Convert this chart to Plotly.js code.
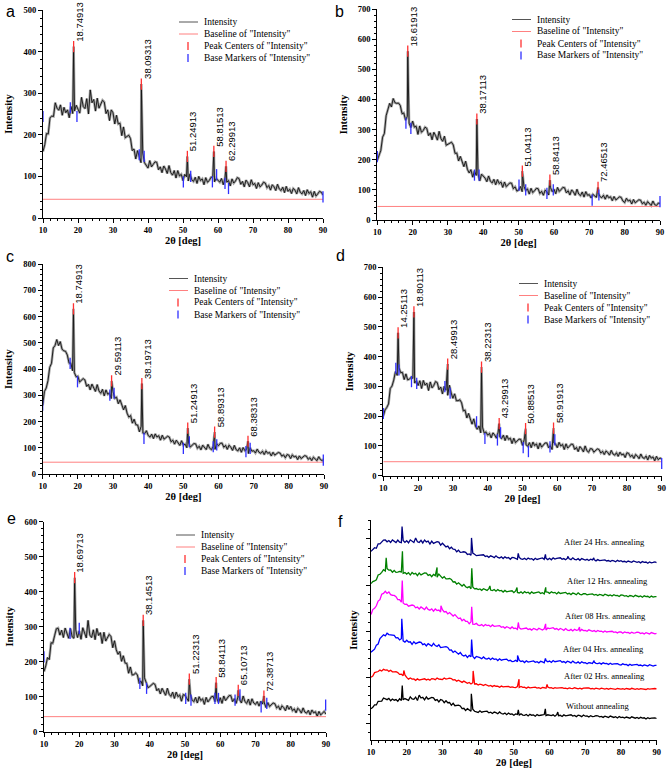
<!DOCTYPE html>
<html><head><meta charset="utf-8">
<script src="https://cdn.plot.ly/plotly-3.0.1.min.js"></script>
<style>html,body{margin:0;padding:0;background:#fff;}#chart{width:669px;height:771px;}</style>
</head><body><div id="chart"></div>
<script>
// ---------------- DATA ----------------
const twoTheta = [
10,10.5,11,11.5,12,12.5,13,13.5,14,14.5,15,15.5,16,16.5,17,17.5,18,18.5,19,19.5,
20,20.5,21,21.5,22,22.5,23,23.5,24,24.5,25,25.5,26,26.5,27,27.5,28,28.5,29,29.5,
30,30.5,31,31.5,32,32.5,33,33.5,34,34.5,35,35.5,36,36.5,37,37.5,38,38.5,39,39.5,
40,40.5,41,41.5,42,42.5,43,43.5,44,44.5,45,45.5,46,46.5,47,47.5,48,48.5,49,49.5,
50,50.5,51,51.5,52,52.5,53,53.5,54,54.5,55,55.5,56,56.5,57,57.5,58,58.5,59,59.5,
60,60.5,61,61.5,62,62.5,63,63.5,64,64.5,65,65.5,66,66.5,67,67.5,68,68.5,69,69.5,
70,70.5,71,71.5,72,72.5,73,73.5,74,74.5,75,75.5,76,76.5,77,77.5,78,78.5,79,79.5,
80,80.5,81,81.5,82,82.5,83,83.5,84,84.5,85,85.5,86,86.5,87,87.5,88,88.5,89,89.5,
90];

// (a) without annealing
const intensityA = [
160,176,203,202,241,245,244,277,264,259,272,247,266,253,260,241,268,251,257,271,
263,252,290,268,263,287,250,308,277,285,257,288,264,272,283,279,251,260,234,260,
253,226,247,226,228,198,219,193,195,199,191,162,166,142,162,149,133,156,133,125,
120,138,123,129,135,134,116,123,109,125,118,107,126,109,103,114,96,114,101,105,
90,105,99,89,106,92,88,98,83,100,90,94,80,97,86,90,98,98,87,95,
90,86,95,80,96,86,90,77,94,84,89,97,95,81,88,75,91,85,75,92,
80,83,71,85,75,79,86,84,73,78,67,80,75,66,81,70,66,74,61,76,
64,69,59,71,67,58,73,62,58,66,54,68,59,63,50,64,53,58,64,62,
55];
const peakXA = [18.74913, 38.09313, 51.24913, 58.81513, 62.29913];
const peakYA = [412, 322, 148, 160, 124];
const baseXA = [10, 17.8, 19.7, 37.5, 38.9, 50.1, 52.2, 58.4, 59.6, 62, 63, 90];
const baseYA = [244, 265, 244, 152, 148, 87, 100, 87, 104, 83, 71, 51];

// (b) after 04 hrs
const intensityB = [
198,214,231,275,287,346,368,387,375,403,389,387,388,380,353,355,331,344,321,307,
328,308,311,284,312,291,297,308,304,280,289,266,291,280,265,294,270,261,278,248,
252,254,258,249,221,222,196,211,196,177,195,168,156,167,142,163,148,153,130,152,
147,139,127,146,129,123,135,117,134,121,126,108,126,111,117,123,122,104,110,96,
99,111,94,111,98,103,86,105,91,97,105,104,88,95,82,99,93,83,108,94,
102,87,108,95,101,108,107,90,97,83,100,93,82,102,86,81,93,76,94,82,
84,73,85,81,75,91,78,74,82,69,83,74,77,64,78,67,71,77,75,63,
58,72,63,66,53,68,57,61,67,66,54,59,49,61,56,48,63,51,48,56,
55];
const peakXB = [18.61913, 38.17113, 51.04113, 58.84113, 72.46513];
const peakYB = [560, 335, 162, 132, 108];
const baseXB = [10, 18.1, 19.5, 37.5, 38.8, 50.1, 52, 58, 59.8, 70.8, 72.7, 90];
const baseYB = [210, 321, 304, 149, 149, 116, 100, 88, 100, 66, 83, 61];

// (c) after 08 hrs
const intensityC = [
262,315,328,356,407,422,481,490,513,490,505,476,470,468,454,423,423,394,387,371,
373,351,356,364,359,334,342,321,343,331,315,341,317,308,323,298,321,304,309,288,
314,289,293,268,283,266,245,261,232,217,223,194,209,188,187,161,182,156,154,165,
147,141,152,135,153,141,146,129,148,133,138,144,141,123,129,114,129,121,109,127,
110,114,100,118,103,109,116,115,98,106,92,110,103,93,113,98,93,106,94,115,
108,117,118,102,109,94,110,102,90,109,93,88,100,83,101,89,94,78,100,87,
89,80,95,83,79,87,74,88,79,82,69,83,72,76,82,80,68,73,62,74,
72,59,73,65,68,55,69,59,63,70,68,56,62,51,64,59,51,66,55,51,
58];
const peakXC = [18.74913, 29.59113, 38.19713, 51.24913, 58.89313, 68.38313];
const peakYC = [630, 355, 345, 175, 160, 125];
const baseXC = [10, 17.8, 19.9, 29.1, 30.3, 38.8, 50, 51.7, 58.5, 59.5, 67.8, 69, 89.8];
const baseYC = [263, 422, 352, 301, 308, 136, 98, 123, 104, 111, 85, 98, 53];

// (d) after 12 hrs
const intensityD = [
200,221,229,241,293,301,321,350,337,363,346,347,323,342,322,324,331,327,311,319,
303,319,293,320,304,311,286,315,295,303,316,313,289,298,275,300,287,270,304,278,
260,275,252,252,255,245,218,220,194,209,193,173,191,166,156,167,144,163,143,147,
136,142,127,144,137,126,146,130,125,136,118,135,122,126,108,126,111,116,123,122,
102,121,104,99,111,94,113,101,107,90,110,96,103,110,110,94,101,88,110,107,
94,112,100,105,88,107,93,99,106,105,88,95,81,98,91,80,100,84,79,91,
90,79,84,90,88,76,82,71,83,78,69,85,73,69,77,65,79,70,73,61,
77,75,64,69,58,71,66,57,73,61,58,66,53,68,59,63,50,65,54,59,
58];
const peakXD = [14.25113, 18.80113, 28.49913, 38.22313, 43.29913, 50.88513, 58.91913];
const peakYD = [480, 550, 375, 365, 175, 158, 160];
const baseXD = [10, 13.6, 14.5, 18.1, 19.6, 27.7, 29.2, 36.8, 39.2, 42.8, 43.7, 50.2, 51.7, 57.9, 59.3, 90];
const baseYD = [209, 361, 355, 316, 310, 299, 277, 181, 125, 120, 144, 94, 81, 97, 120, 41];

// (e) after 24 hrs
const intensityE = [
172,188,212,206,254,253,274,294,296,276,290,269,296,284,267,295,271,267,291,269,
288,264,297,285,268,318,276,269,291,263,295,275,283,252,284,259,267,278,272,240,
260,234,221,229,201,217,196,195,167,185,162,163,168,162,138,145,131,154,141,126,
129,133,138,135,117,123,108,124,116,104,124,107,101,113,95,113,100,105,87,106,
104,97,87,107,91,86,98,82,100,89,94,78,98,85,92,100,101,86,96,83,
97,81,102,89,96,103,103,86,94,81,99,92,82,102,86,81,93,76,94,82,
78,86,73,87,79,82,69,83,72,76,82,80,68,73,62,74,69,60,75,64,
72,60,65,54,67,62,53,68,56,53,61,48,62,54,57,44,58,48,52,58,
50];
const peakXE = [18.69713, 38.14513, 51.22313, 58.84113, 65.10713, 72.38713];
const peakYE = [440, 318, 150, 140, 118, 102];
const baseXE = [10, 17.4, 20, 37.2, 39.1, 50.2, 51.7, 58.5, 59.5, 64.2, 65.6, 71.6, 73.2, 89.9];
const baseYE = [214, 281, 295, 138, 124, 95, 90, 95, 95, 90, 105, 71, 81, 76];

// after 02 hrs (only in panel f)
const intensity02 = [
173,184,222,225,234,249,239,257,249,252,235,247,231,229,231,222,203,204,188,196,
170,151,164,151,154,138,154,142,147,155,155,143,151,140,157,153,145,164,152,150,
147,164,152,156,162,158,142,145,129,140,130,116,130,113,106,115,99,112,99,101,
88,97,91,81,93,81,76,83,70,82,74,76,64,76,67,70,75,73,62,68,
63,60,70,61,72,62,65,53,65,57,60,66,64,54,59,50,62,58,52,66,
56,58,50,59,53,56,59,59,51,54,47,57,52,48,58,49,47,54,45,54,
51,55,55,46,50,43,53,48,44,54,46,44,50,42,51,46,49,41,50,44,
43,47,40,50,46,42,52,43,41,48,40,49,44,47,39,49,43,46,50,50,
46];
const peakX02 = [19.2, 38.6, 51.45, 59.3];
const peakY02 = [245, 240, 150, 95];

const baselineLevels = [45, 45, 45, 47, 43];
const legendLabels = ['Intensity', 'Baseline of "Intensity"', 'Peak Centers of "Intensity"', 'Base Markers of "Intensity"'];
const annealLabels = ['Without annealing', 'After 02 Hrs. annealing', 'After 04 Hrs. annealing',
                      'After 08 Hrs. annealing', 'After 12 Hrs. annealing', 'After 24 Hrs. annealing'];
const panelLetters = ['a', 'b', 'c', 'd', 'e', 'f'];
const yMax = [500, 700, 800, 700, 600];

// ---------------- LAYOUT / STYLE ----------------
const W = 669, H = 771;
const SERIF = 'Liberation Serif, Times New Roman, serif';
const SANS = 'Liberation Sans, Arial, sans-serif';
const X_RANGE = [10, 90];
const boxes = [ // [left, right, top, bottom] in px
  [43, 323, 10, 218], [377.3, 660, 9, 220],
  [42.7, 324, 264.3, 474], [383.3, 661.7, 267.3, 475.7],
  [44, 326, 521.7, 731.7], [371, 656.7, 520, 740]
];
const legendPos = [[202, 22], [535, 19.5], [192, 278.5], [542, 283.5], [199, 535]];
const letterPos = [[10, 12], [339, 12], [10, 257], [340, 256], [11, 518], [340, 521]];
const fOffsets = [0, 330, 575, 920, 1316, 1693];
const fColors = ['#000000', '#ff0000', '#0000ff', '#ff00ff', '#008000', '#000080'];
const fLabelPos = [[73.3, 192], [75.5, 516], [75.0, 808], [75.8, 1166], [76.1, 1544], [75.5, 1966]];

const px2x = p => p / W;
const px2y = p => 1 - p / H;

function merge(xs, ys, pxs, pys, off) {
  const pts = xs.map((x, i) => [x, ys[i]]).concat(pxs.map((x, i) => [x, pys[i]]));
  pts.sort((a, b) => a[0] - b[0]);
  return { x: pts.map(p => p[0]), y: pts.map(p => p[1] + off) };
}

const panelData = [
  { y: intensityA, px: peakXA, py: peakYA, bx: baseXA, by: baseYA },
  { y: intensityB, px: peakXB, py: peakYB, bx: baseXB, by: baseYB },
  { y: intensityC, px: peakXC, py: peakYC, bx: baseXC, by: baseYC },
  { y: intensityD, px: peakXD, py: peakYD, bx: baseXD, by: baseYD },
  { y: intensityE, px: peakXE, py: peakYE, bx: baseXE, by: baseYE }
];

const tickFont = { family: SERIF, size: 8.5, color: '#000', weight: 'bold' };
const titleFont = { family: SERIF, size: 10.5, color: '#000', weight: 'bold' };

function xAxis(b, n) {
  return {
    domain: [px2x(b[0]), px2x(b[1])], anchor: 'y' + n, range: X_RANGE,
    tick0: 10, dtick: 10, ticks: 'outside', ticklen: 4, tickwidth: 1, tickcolor: '#000',
    showline: true, linecolor: '#000', linewidth: 1, showgrid: false, zeroline: false,
    tickfont: tickFont, automargin: false, fixedrange: true,
    minor: { dtick: 2, ticks: 'outside', ticklen: 2, tickwidth: 1, tickcolor: '#000', showgrid: false },
    title: { text: '2θ [deg]', font: titleFont, standoff: 2 }
  };
}
function yAxis(b, n, range, dtick, mdtick, showLabels) {
  return {
    domain: [px2y(b[3]), px2y(b[2])], anchor: 'x' + n, range: range,
    tick0: 0, dtick: dtick, ticks: 'outside', ticklen: 4, tickwidth: 1, tickcolor: '#000',
    showline: true, linecolor: '#000', linewidth: 1, showgrid: false, zeroline: false,
    showticklabels: showLabels, tickfont: tickFont, automargin: false, fixedrange: true,
    minor: { dtick: mdtick, ticks: 'outside', ticklen: 2, tickwidth: 1, tickcolor: '#000', showgrid: false },
    title: { text: 'Intensity', font: titleFont, standoff: showLabels ? 8 : 6 }
  };
}

const traces = [];
const annotations = [];
const shapes = [];
const layout = {
  width: W, height: H, margin: { l: 0, r: 0, t: 0, b: 0 },
  paper_bgcolor: '#fff', plot_bgcolor: '#fff', showlegend: false, hovermode: false,
  font: { family: SERIF, color: '#000' }
};

panelData.forEach((p, k) => {
  const n = k === 0 ? '' : String(k + 1);
  const b = boxes[k];
  layout['xaxis' + n] = xAxis(b, n);
  layout['yaxis' + n] = yAxis(b, n, [0, yMax[k]], 100, 20, true);
  const m = merge(twoTheta, p.y, p.px, p.py, 0);
  // gray halo + dark core of the measured pattern
  traces.push({ x: m.x, y: m.y, xaxis: 'x' + n, yaxis: 'y' + n, mode: 'lines', name: legendLabels[0],
    line: { color: '#a8a8a8', width: 2.6 } });
  traces.push({ x: m.x, y: m.y, xaxis: 'x' + n, yaxis: 'y' + n, mode: 'lines', name: legendLabels[0],
    line: { color: '#111111', width: 0.9 } });
  traces.push({ x: X_RANGE, y: [baselineLevels[k], baselineLevels[k]], xaxis: 'x' + n, yaxis: 'y' + n,
    mode: 'lines', name: legendLabels[1], line: { color: '#ff8080', width: 1 } });
  traces.push({ x: p.px, y: p.py, xaxis: 'x' + n, yaxis: 'y' + n, mode: 'markers', name: legendLabels[2],
    marker: { symbol: 'line-ns', size: 8, line: { color: '#ff3030', width: 1.3 } } });
  traces.push({ x: p.bx, y: p.by, xaxis: 'x' + n, yaxis: 'y' + n, mode: 'markers', name: legendLabels[3],
    marker: { symbol: 'line-ns', size: 8, line: { color: '#3030ff', width: 1.3 } }, cliponaxis: false });
  p.px.forEach((x, i) => {
    annotations.push({ xref: 'x' + n, yref: 'y' + n, x: x, y: p.py[i], text: String(x), textangle: -90,
      xanchor: 'left', yanchor: 'bottom', xshift: -2, yshift: 3, showarrow: false,
      font: { family: SANS, size: 9.5, color: '#000' } });
  });
  // custom legend
  const [tx, ty] = legendPos[k];
  legendLabels.forEach((lab, r) => {
    const yy = ty + r * 12;
    annotations.push({ xref: 'paper', yref: 'paper', x: px2x(tx), y: px2y(yy), text: lab, showarrow: false,
      xanchor: 'left', yanchor: 'middle', font: { family: SERIF, size: 9.5, color: '#000' } });
    if (r < 2) {
      shapes.push({ type: 'line', xref: 'paper', yref: 'paper', x0: px2x(tx - 23), x1: px2x(tx - 4),
        y0: px2y(yy), y1: px2y(yy), line: { color: r === 0 ? '#555' : '#ff8080', width: 1 } });
    } else {
      shapes.push({ type: 'line', xref: 'paper', yref: 'paper', x0: px2x(tx - 14), x1: px2x(tx - 14),
        y0: px2y(yy - 4), y1: px2y(yy + 4), line: { color: r === 2 ? '#ff3030' : '#3030ff', width: 1.3 } });
    }
  });
});

// panel f: stacked patterns
{
  const n = '6', b = boxes[5];
  layout['xaxis' + n] = xAxis(b, n);
  layout['yaxis' + n] = yAxis(b, n, [-178, 2205], 500, 100, false);
  const fSeries = [
    { y: intensityA, px: peakXA, py: peakYA },
    { y: intensity02, px: peakX02, py: peakY02 },
    { y: intensityB, px: peakXB, py: peakYB },
    { y: intensityC, px: peakXC, py: peakYC },
    { y: intensityD, px: peakXD, py: peakYD },
    { y: intensityE, px: peakXE, py: peakYE }
  ];
  fSeries.forEach((s, i) => {
    const m = merge(twoTheta, s.y, s.px, s.py, fOffsets[i]);
    traces.push({ x: m.x, y: m.y, xaxis: 'x6', yaxis: 'y6', mode: 'lines', name: annealLabels[i],
      line: { color: fColors[i], width: 1.3 } });
    annotations.push({ xref: 'x6', yref: 'y6', x: fLabelPos[i][0], y: fLabelPos[i][1], text: annealLabels[i],
      showarrow: false, xanchor: 'center', yanchor: 'middle', font: { family: SERIF, size: 8.5, color: '#000' } });
  });
}

panelLetters.forEach((l, i) => {
  annotations.push({ xref: 'paper', yref: 'paper', x: px2x(letterPos[i][0]), y: px2y(letterPos[i][1]), text: l,
    showarrow: false, xanchor: 'center', yanchor: 'middle', font: { family: SANS, size: 16, color: '#000' } });
});

layout.annotations = annotations;
layout.shapes = shapes;
Plotly.newPlot('chart', traces, layout, { staticPlot: true, displayModeBar: false });
</script>
</body></html>
